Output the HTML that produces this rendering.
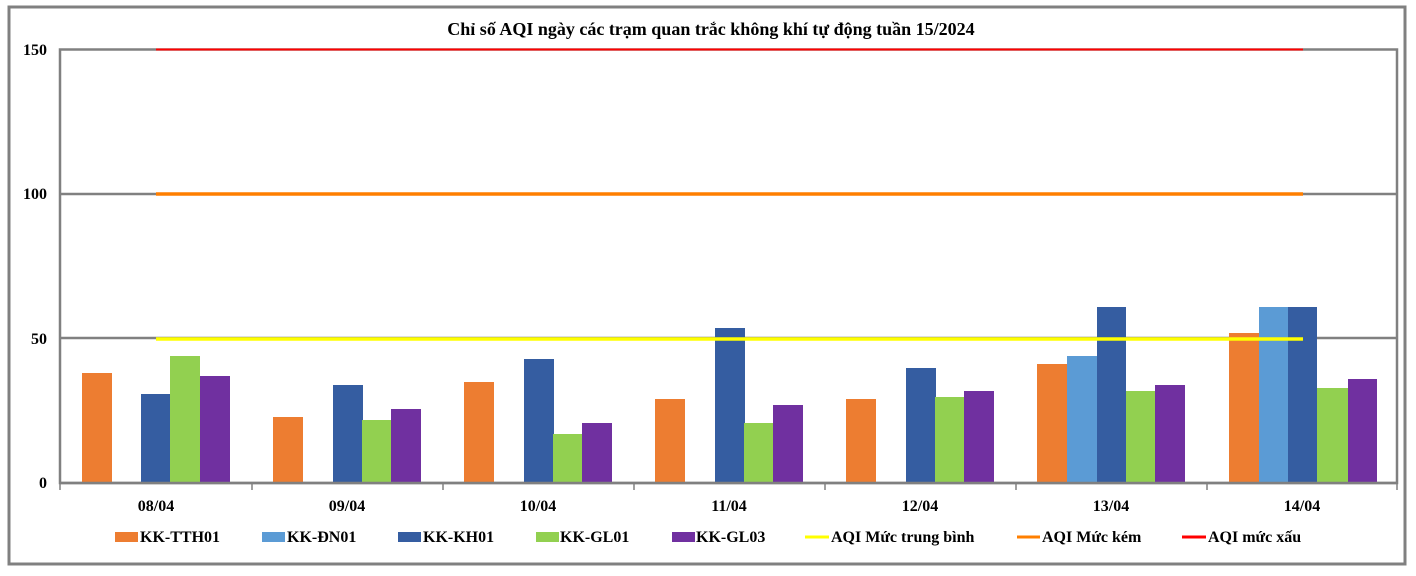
<!DOCTYPE html>
<html><head><meta charset="utf-8"><style>html,body{margin:0;padding:0;background:#fff}</style></head>
<body>
<svg width="1416" height="571" xmlns="http://www.w3.org/2000/svg" font-family="'Liberation Serif', serif" font-weight="bold">
<rect x="0" y="0" width="1416" height="571" fill="#fff"/>
<rect x="9" y="7" width="1396" height="557" fill="none" stroke="#808080" stroke-width="3"/>
<text x="711" y="35" font-size="18" text-anchor="middle">Chỉ số AQI ngày các trạm quan trắc không khí tự động tuần 15/2024</text>
<line x1="60" y1="194" x2="1397" y2="194" stroke="#808080" stroke-width="2.5"/>
<line x1="60" y1="338" x2="1397" y2="338" stroke="#808080" stroke-width="2.5"/>
<rect x="60" y="49.5" width="1337" height="433.5" fill="none" stroke="#808080" stroke-width="2.5"/>
<g font-size="16" text-anchor="end">
<text x="47" y="55">150</text><text x="47" y="199">100</text><text x="47" y="344">50</text><text x="47" y="488">0</text>
</g>
<g stroke="#808080" stroke-width="1.5">
<line x1="60" y1="483" x2="60" y2="490"/><line x1="252" y1="483" x2="252" y2="490"/><line x1="443" y1="483" x2="443" y2="490"/><line x1="634" y1="483" x2="634" y2="490"/><line x1="825" y1="483" x2="825" y2="490"/><line x1="1016" y1="483" x2="1016" y2="490"/><line x1="1207" y1="483" x2="1207" y2="490"/><line x1="1397" y1="483" x2="1397" y2="490"/>
</g>
<g font-size="16" text-anchor="middle">
<text x="156" y="511">08/04</text><text x="347" y="511">09/04</text><text x="538" y="511">10/04</text><text x="729" y="511">11/04</text><text x="920" y="511">12/04</text><text x="1111" y="511">13/04</text><text x="1302" y="511">14/04</text>
</g>
<g>
<rect x="82" y="373" width="30" height="110" fill="#ED7D31"/>
<rect x="141" y="394" width="30" height="89" fill="#355DA1"/>
<rect x="170" y="356" width="30" height="127" fill="#92D050"/>
<rect x="200" y="376" width="30" height="107" fill="#7030A0"/>
<rect x="273" y="417" width="30" height="66" fill="#ED7D31"/>
<rect x="333" y="385" width="30" height="98" fill="#355DA1"/>
<rect x="362" y="420" width="30" height="63" fill="#92D050"/>
<rect x="391" y="409" width="30" height="74" fill="#7030A0"/>
<rect x="464" y="382" width="30" height="101" fill="#ED7D31"/>
<rect x="524" y="359" width="30" height="124" fill="#355DA1"/>
<rect x="553" y="434" width="30" height="49" fill="#92D050"/>
<rect x="582" y="423" width="30" height="60" fill="#7030A0"/>
<rect x="655" y="399" width="30" height="84" fill="#ED7D31"/>
<rect x="715" y="328" width="30" height="155" fill="#355DA1"/>
<rect x="744" y="423" width="30" height="60" fill="#92D050"/>
<rect x="773" y="405" width="30" height="78" fill="#7030A0"/>
<rect x="846" y="399" width="30" height="84" fill="#ED7D31"/>
<rect x="906" y="368" width="30" height="115" fill="#355DA1"/>
<rect x="935" y="397" width="30" height="86" fill="#92D050"/>
<rect x="964" y="391" width="30" height="92" fill="#7030A0"/>
<rect x="1037" y="364" width="30" height="119" fill="#ED7D31"/>
<rect x="1067" y="356" width="30" height="127" fill="#5B9BD5"/>
<rect x="1097" y="307" width="29" height="176" fill="#355DA1"/>
<rect x="1126" y="391" width="29" height="92" fill="#92D050"/>
<rect x="1155" y="385" width="30" height="98" fill="#7030A0"/>
<rect x="1229" y="333" width="30" height="150" fill="#ED7D31"/>
<rect x="1259" y="307" width="29" height="176" fill="#5B9BD5"/>
<rect x="1288" y="307" width="29" height="176" fill="#355DA1"/>
<rect x="1317" y="388" width="31" height="95" fill="#92D050"/>
<rect x="1348" y="379" width="29" height="104" fill="#7030A0"/>
</g>
<line x1="60" y1="483" x2="1397" y2="483" stroke="#808080" stroke-width="2.5"/>
<line x1="156" y1="49.5" x2="1303" y2="49.5" stroke="#FF0000" stroke-width="2"/>
<line x1="156" y1="194" x2="1303" y2="194" stroke="#FF7F00" stroke-width="3.5"/>
<line x1="156" y1="339" x2="1303" y2="339" stroke="#FFFF00" stroke-width="3.5"/>
<g font-size="16">
<rect x="115" y="532" width="23" height="10" fill="#ED7D31"/><text x="140" y="542">KK-TTH01</text>
<rect x="262" y="532" width="23" height="10" fill="#5B9BD5"/><text x="287" y="542">KK-ĐN01</text>
<rect x="398" y="532" width="23" height="10" fill="#355DA1"/><text x="423" y="542">KK-KH01</text>
<rect x="536" y="532" width="23" height="10" fill="#92D050"/><text x="560" y="542">KK-GL01</text>
<rect x="672" y="532" width="23" height="10" fill="#7030A0"/><text x="696" y="542">KK-GL03</text>
<line x1="805" y1="537" x2="829" y2="537" stroke="#FFFF00" stroke-width="3"/><text x="831" y="542">AQI Mức trung bình</text>
<line x1="1017" y1="537" x2="1040" y2="537" stroke="#FF7F00" stroke-width="3"/><text x="1042" y="542">AQI Mức kém</text>
<line x1="1182" y1="537" x2="1206" y2="537" stroke="#FF0000" stroke-width="3"/><text x="1208" y="542">AQI mức xấu</text>
</g>
</svg>
</body></html>
